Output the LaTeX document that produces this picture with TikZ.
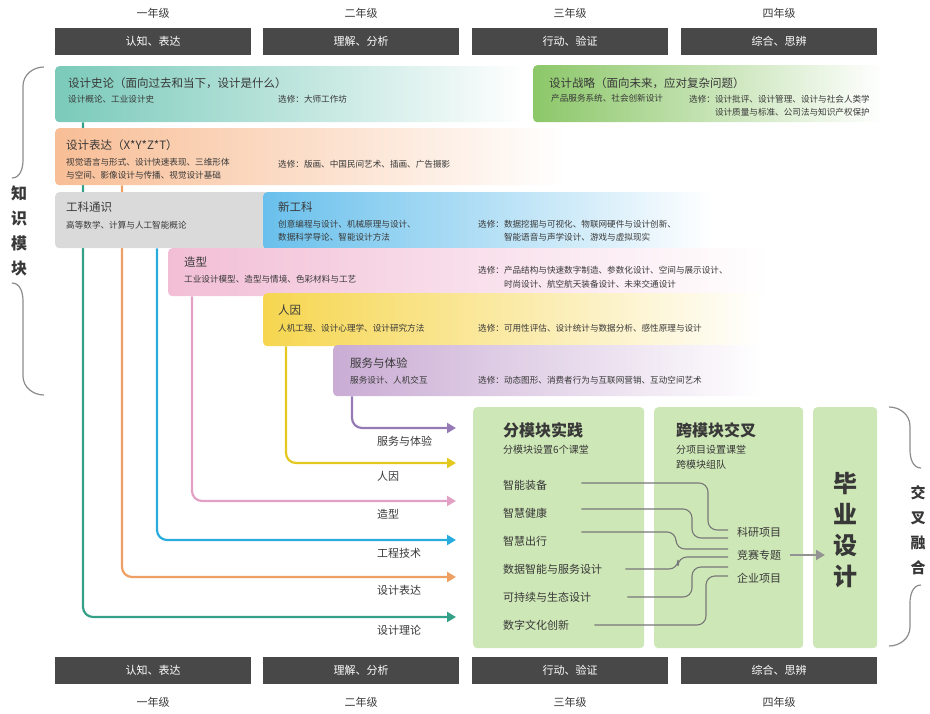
\documentclass[tikz,border=0pt]{standalone}
\usepackage{fontspec}
\setmainfont{Noto Sans CJK SC}
\usepackage{tikz}
\usetikzlibrary{arrows.meta, positioning, calc, backgrounds}
\definecolor{ink}{RGB}{56,56,56}
\definecolor{headcolor}{RGB}{72,72,72}
\definecolor{tealband}{RGB}{122,202,186}
\definecolor{tealline}{RGB}{52,160,135}
\definecolor{greenband}{RGB}{140,199,105}
\definecolor{orangeband}{RGB}{248,190,150}
\definecolor{orangeline}{RGB}{238,160,100}
\definecolor{grayband}{RGB}{218,218,218}
\definecolor{blueband}{RGB}{105,192,236}
\definecolor{blueline}{RGB}{40,172,222}
\definecolor{pinkband}{RGB}{242,190,214}
\definecolor{pinkline}{RGB}{226,160,196}
\definecolor{yellowband}{RGB}{246,214,80}
\definecolor{yellowline}{RGB}{228,200,30}
\definecolor{purpleband}{RGB}{202,172,212}
\definecolor{purpleline}{RGB}{150,122,182}
\definecolor{practice}{RGB}{206,231,182}
\definecolor{linkcolor}{RGB}{120,120,120}

\begin{document}
\begin{tikzpicture}[x=1pt, y=-1pt,
    band/.style={rectangle, rounded corners=4pt, anchor=north west, inner sep=0pt},
    title/.style={anchor=west, inner sep=0pt, text=ink, font=\fontsize{11.5}{14}\selectfont},
    sub/.style={anchor=west, inner sep=0pt, text=ink, align=left, font=\fontsize{8.6}{13.5}\selectfont},
    head/.style={rectangle, fill=headcolor, text=white, minimum width=196pt, minimum height=27pt, anchor=north west, font=\fontsize{11}{13}\selectfont},
    year/.style={text=ink, font=\fontsize{11}{13}\selectfont},
    flow/.style={line width=2.2pt, rounded corners=10pt, -{Triangle[length=9pt, width=10pt]}},
    flowlabel/.style={anchor=west, inner sep=0pt, text=ink, font=\fontsize{11}{13}\selectfont},
    block/.style={rectangle, rounded corners=4pt, fill=practice, anchor=north west, inner sep=0pt, minimum height=241pt},
    item/.style={anchor=west, inner sep=0pt, text=ink, font=\fontsize{11}{13}\selectfont},
    link/.style={draw=linkcolor, line width=1.1pt, rounded corners=9pt},
    brace/.style={draw=gray!90, line width=1.2pt},
]
\useasboundingbox (0,0) rectangle (930,714);

% grades
\foreach \x/\grade/\aim [count=\i] in {55/一年级/认知、表达, 263/二年级/理解、分析, 472/三年级/行动、验证, 681/四年级/综合、思辨} {
    \node[head] (top\i) at (\x,28) {\aim};
    \node[year, above=6pt of top\i] (ytop\i) {\grade};
    \node[head] (bot\i) at (\x,657) {\aim};
    \node[year, below=9pt of bot\i] (ybot\i) {\grade};
}

% knowledge modules
\node[band, minimum width=470pt, minimum height=56pt, left color=tealband, middle color=tealband!80, right color=white] (shilun) at (55,66) {};
\node[title] (shiluntitle) at (68,83) {设计史论（面向过去和当下，设计是什么）};
\node[sub] (shilunsub) at (68,99) {设计概论、工业设计史};
\node[sub] (shilunopt) at (278,99) {选修：大师工作坊};

\node[band, minimum width=350pt, minimum height=57pt, left color=greenband, middle color=greenband!80, right color=white] (zhanlue) at (533,65) {};
\node[title] (zhanluetitle) at (549,83) {设计战略（面向未来，应对复杂问题）};
\node[sub] (zhanluesub) at (551,98) {产品服务系统、社会创新设计};
\node[sub, anchor=east, align=right] (zhanlueopt) at (870,105.5) {选修：设计批评、设计管理、设计与社会人类学\\设计质量与标准、公司法与知识产权保护};

\node[band, minimum width=510pt, minimum height=57pt, left color=orangeband, middle color=orangeband!80, right color=white] (biaoda) at (55,128) {};
\node[title] (biaodatitle) at (66,145) {设计表达（X*Y*Z*T）};
\node[sub] (biaodasub) at (66,168.5) {视觉语言与形式、设计快速表现、三维形体\\与空间、影像设计与传播、视觉设计基础};
\node[sub] (biaodaopt) at (278,164) {选修：版画、中国民间艺术、插画、广告摄影};

\node[band, minimum width=215pt, minimum height=56pt, fill=grayband] (gongke) at (55,192) {};
\node[title] (gongketitle) at (66,207) {工科通识};
\node[sub] (gongkesub) at (66,225) {高等数学、计算与人工智能概论};

\node[band, minimum width=450pt, minimum height=57pt, left color=blueband, middle color=blueband!75, right color=white] (xingongke) at (263,192) {};
\node[title] (xingongketitle) at (278,207) {新工科};
\node[sub] (xingongkesub) at (278,230.5) {创意编程与设计、机械原理与设计、\\数据科学导论、智能设计方法};
\node[sub] (xingongkeopt) at (478,230.5) {选修：数据挖掘与可视化、物联网硬件与设计创新、\\\hphantom{选修：}智能语音与声学设计、游戏与虚拟现实};

\node[band, minimum width=600pt, minimum height=48pt, left color=pinkband, middle color=pinkband!50, right color=white] (zaoxing) at (168,248) {};
\node[title] (zaoxingtitle) at (184,262) {造型};
\node[sub] (zaoxingsub) at (184,279) {工业设计模型、造型与情境、色彩材料与工艺};
\node[sub] (zaoxingopt) at (478,277) {选修：产品结构与快速数字制造、参数化设计、空间与展示设计、\\\hphantom{选修：}时尚设计、航空航天装备设计、未来交通设计};

\node[band, minimum width=500pt, minimum height=53pt, left color=yellowband, middle color=yellowband!90, right color=white] (renyin) at (263,293) {};
\node[title] (renyintitle) at (278,310) {人因};
\node[sub] (renyinsub) at (278,328) {人机工程、设计心理学、设计研究方法};
\node[sub] (renyinopt) at (478,328) {选修：可用性评估、设计统计与数据分析、感性原理与设计};

\node[band, minimum width=430pt, minimum height=51pt, left color=purpleband, middle color=purpleband!70, right color=white] (fuwu) at (333,345) {};
\node[title] (fuwutitle) at (350,363) {服务与体验};
\node[sub] (fuwusub) at (350,380) {服务设计、人机交互};
\node[sub] (fuwuopt) at (478,380) {选修：动态图形、消费者行为与互联网营销、互动空间艺术};

% flows into practice
\foreach \name/\y/\txt in {endfuwu/428/服务与体验, endrenyin/463/人因, endzaoxing/501/造型, endjishu/540/工程技术, endbiaoda/577/设计表达, endlilun/617/设计理论} {
    \coordinate (\name) at (456,\y);
    \node[flowlabel] (label\name) at (377,\y+13) {\txt};
}
\begin{scope}[on background layer]
    \foreach \band/\dx/\target/\clr in {shilun/28pt/endlilun/tealline, biaoda/67pt/endbiaoda/orangeline, gongke/102pt/endjishu/blueline, zaoxing/24pt/endzaoxing/pinkline, renyin/23pt/endrenyin/yellowline, fuwu/19pt/endfuwu/purpleline}
        \draw[flow, \clr] ([xshift=\dx]\band.south west) |- (\target);
\end{scope}

% practice blocks
\node[block, minimum width=171pt] (fenmokuai) at (473,407) {};
\node[block, minimum width=149pt] (kuamokuai) at (654,407) {};
\node[block, minimum width=64pt] (biye) at (813,407) {};

\node[item, font=\fontsize{16}{18}\selectfont\bfseries] (fentitle) at (503,430) {分模块实践};
\node[sub, font=\fontsize{10}{12}\selectfont] (fensub) at (503,450) {分模块设置6个课堂};
\foreach \name/\y/\txt in {zhuangbei/485/智能装备, jiankang/513/智慧健康, chuxing/541/智慧出行, shuju/569/数据智能与服务设计, kechixu/597/可持续与生态设计, wenhua/625/数字文化创新}
    \node[item] (\name) at (503,\y) {\txt};

\node[item, font=\fontsize{16}{18}\selectfont\bfseries] (kuatitle) at (676,430) {跨模块交叉};
\node[sub, font=\fontsize{10}{15}\selectfont] (kuasub) at (676,457.5) {分项目设置课堂\\跨模块组队};
\node[item] (keyan) at (737,532) {科研项目};
\node[item] (jingsai) at (737,555) {竞赛专题};
\node[item] (qiye) at (737,578) {企业项目};

% course modules into projects
\foreach \src/\gap/\up/\dy/\bend in {zhuangbei/34pt/2pt/25pt/20pt, jiankang/34pt/4pt/17pt/36pt, chuxing/34pt/9pt/6pt/52pt, shuju/23pt/0pt/-2pt/50pt, kechixu/36pt/0pt/-12pt/36pt, wenhua/25pt/0pt/-21pt/22pt} {
    \coordinate (t\src) at ([xshift=-9pt, yshift=\dy]jingsai.west);
    \draw[link] ([xshift=\gap, yshift=\up]\src.east) -| ([xshift=-\bend]t\src) -- (t\src);
}

\node[text=ink, align=center, inner sep=0pt, font=\fontsize{24}{31}\selectfont\bfseries] (biyetext) at (845,530) {毕\\业\\设\\计};
\coordinate (biyein) at ($(biye.west |- jingsai.east)+(12,0)$);
\draw[line width=2pt, linkcolor!80, -{Triangle[length=9pt, width=10pt]}] ([xshift=9pt]jingsai.east) -- (biyein);

% side braces
\node[text=ink, align=center, inner sep=0pt, font=\fontsize{16}{25}\selectfont\bfseries] (zhishi) at (19,230.5) {知\\识\\模\\块};
\draw[brace] (44,67) to[out=180, in=90] (23,86) -- (23,160) to[out=270, in=0] (12,178);
\draw[brace] (12,283) to[out=0, in=90] (23,301) -- (23,376) to[out=270, in=180] (44,395);

\node[text=ink, align=center, inner sep=0pt, font=\fontsize{15}{25}\selectfont\bfseries] (jiaocha) at (918,530) {交\\叉\\融\\合};
\draw[brace] (889,407) to[out=0, in=90] (910,426) -- (910,450) to[out=270, in=180] (921,468);
\draw[brace] (921,585) to[out=180, in=90] (910,603) -- (910,627) to[out=270, in=0] (889,646);
\end{tikzpicture}
\end{document}
